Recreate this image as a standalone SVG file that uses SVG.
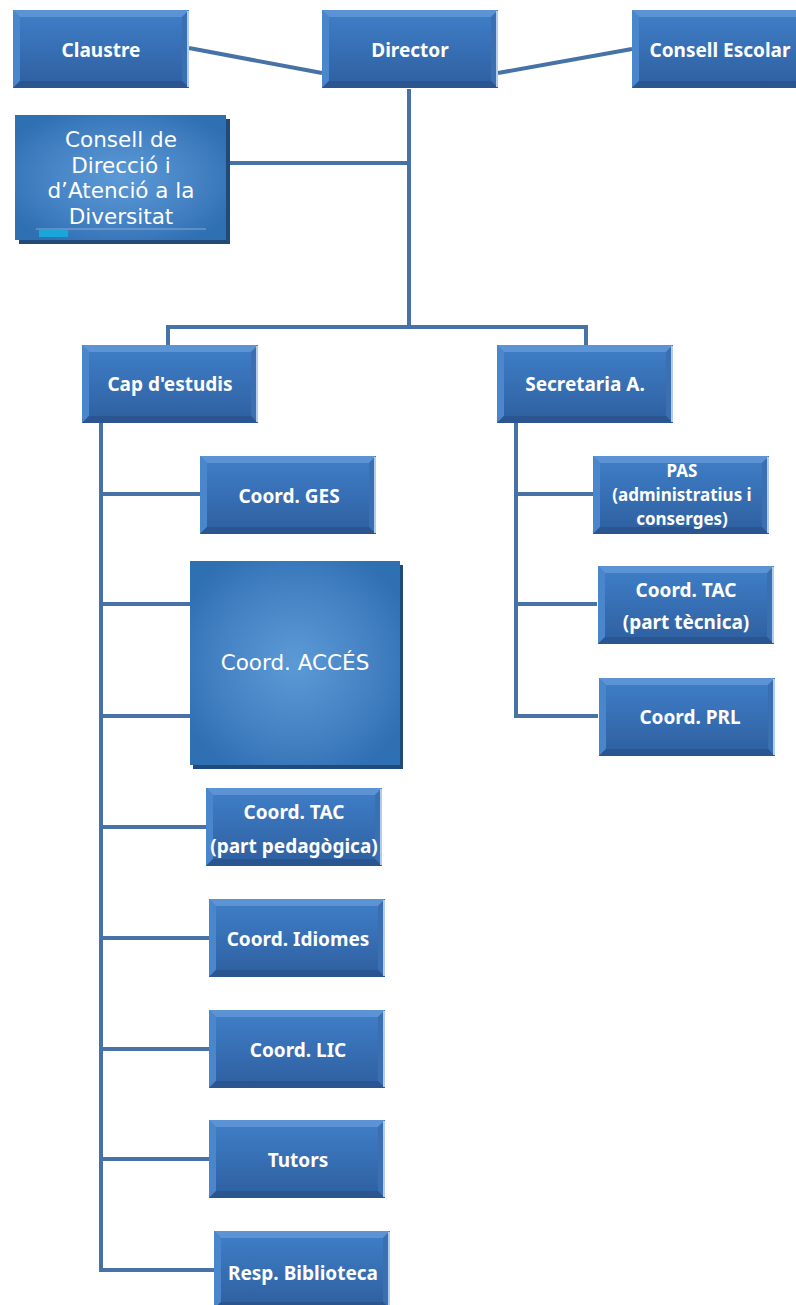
<svg xmlns="http://www.w3.org/2000/svg" xmlns:xlink="http://www.w3.org/1999/xlink" width="796" height="1305" viewBox="0 0 796 1305">
<defs>
<linearGradient id="face" x1="0" y1="0" x2="0" y2="1">
<stop offset="0" stop-color="#3f7fc8"/>
<stop offset="0.5" stop-color="#376fb4"/>
<stop offset="1" stop-color="#2e5f9f"/>
</linearGradient>
<radialGradient id="glow" cx="0.5" cy="0.5" r="0.6">
<stop offset="0" stop-color="#5b9ad6"/>
<stop offset="0.6" stop-color="#4582c4"/>
<stop offset="1" stop-color="#2f70b2"/>
</radialGradient>
<g id="bev">
<rect x="0" y="0" width="176" height="78" fill="url(#face)"/>
<polygon points="0,0 176,0 169,7 7,7" fill="#5c93d4"/>
<polygon points="0,0 7,7 7,71 0,78" fill="#4a86cc"/>
<polygon points="176,0 176,78 169,71 169,7" fill="#3a70b2"/>
<polygon points="0,78 176,78 169,71 7,71" fill="#2a5591"/>
<line x1="175" y1="1" x2="175" y2="77" stroke="#d8ecff" stroke-width="1.5"/>
</g>
</defs>
<style>
.lbl{font-family:"Noto Sans","DejaVu Sans",sans-serif;font-weight:bold;font-size:19px;fill:#ffffff;text-anchor:middle}
.sm{font-size:17px}
.big{font-family:"DejaVu Sans",Verdana,sans-serif;font-size:21.5px;fill:#ffffff;text-anchor:middle}
.con{stroke:#4672a6;stroke-width:4;fill:none}
</style>
<rect width="796" height="1305" fill="#ffffff"/>
<g id="connectors">
<line class="con" x1="189" y1="48" x2="322" y2="73"/>
<line class="con" x1="498" y1="73" x2="632" y2="49"/>
<line class="con" x1="409" y1="89" x2="409" y2="327"/>
<line class="con" x1="226" y1="163" x2="409" y2="163"/>
<polyline class="con" points="168,345 168,327 586,327 586,345"/>
<line class="con" x1="101" y1="423" x2="101" y2="1270"/>
<line class="con" x1="101" y1="494" x2="200" y2="494"/>
<line class="con" x1="101" y1="604" x2="190" y2="604"/>
<line class="con" x1="101" y1="716" x2="190" y2="716"/>
<line class="con" x1="101" y1="827" x2="206" y2="827"/>
<line class="con" x1="101" y1="938" x2="209" y2="938"/>
<line class="con" x1="101" y1="1049" x2="209" y2="1049"/>
<line class="con" x1="101" y1="1159" x2="209" y2="1159"/>
<line class="con" x1="99" y1="1270" x2="214" y2="1270"/>
<line class="con" x1="516" y1="423" x2="516" y2="716"/>
<line class="con" x1="516" y1="494" x2="593" y2="494"/>
<line class="con" x1="516" y1="604" x2="597" y2="604"/>
<line class="con" x1="514" y1="716" x2="598" y2="716"/>
</g>
<g id="claustre">
<use xlink:href="#bev" x="13" y="10"/>
<text class="lbl" x="101" y="57">Claustre</text>
</g>
<g id="director">
<use xlink:href="#bev" x="322" y="10"/>
<text class="lbl" x="410" y="57">Director</text>
</g>
<g id="consell-escolar">
<use xlink:href="#bev" x="632" y="10"/>
<text class="lbl" x="720" y="57">Consell Escolar</text>
</g>
<g id="consell-direccio">
<rect x="19" y="119" width="211" height="125" fill="#1f4a7a"/>
<rect x="15" y="115" width="211" height="125" fill="url(#glow)"/>
<line x1="36" y1="229" x2="206" y2="229" stroke="#9fb8d8" stroke-width="0.8"/>
<rect x="39" y="230" width="29" height="7" fill="#1aa6d8"/>
<text class="big" x="121" y="147">Consell de</text>
<text class="big" x="121" y="173">Direcció i</text>
<text class="big" x="121" y="198">d’Atenció a la</text>
<text class="big" x="121" y="224">Diversitat</text>
</g>
<g id="cap-estudis">
<use xlink:href="#bev" x="82" y="345"/>
<text class="lbl" x="170" y="391">Cap d'estudis</text>
</g>
<g id="secretaria">
<use xlink:href="#bev" x="497" y="345"/>
<text class="lbl" x="585" y="391">Secretaria A.</text>
</g>
<g id="coord-ges">
<use xlink:href="#bev" x="200" y="456"/>
<text class="lbl" x="289" y="503">Coord. GES</text>
</g>
<g id="coord-acces">
<rect x="193" y="565" width="210" height="204" fill="#1f4a7a"/>
<rect x="190" y="561" width="210" height="204" fill="url(#glow)"/>
<text class="big" x="295" y="670">Coord. ACCÉS</text>
</g>
<g id="coord-tac-ped">
<use xlink:href="#bev" x="206" y="788"/>
<text class="lbl" x="294" y="819">Coord. TAC</text>
<text class="lbl" x="294" y="853">(part pedagògica)</text>
</g>
<g id="coord-idiomes">
<use xlink:href="#bev" x="209" y="899"/>
<text class="lbl" x="298" y="946">Coord. Idiomes</text>
</g>
<g id="coord-lic">
<use xlink:href="#bev" x="209" y="1010"/>
<text class="lbl" x="298" y="1057">Coord. LIC</text>
</g>
<g id="tutors">
<use xlink:href="#bev" x="209" y="1120"/>
<text class="lbl" x="298" y="1167">Tutors</text>
</g>
<g id="resp-biblioteca">
<use xlink:href="#bev" x="214" y="1231"/>
<text class="lbl" x="303" y="1280">Resp. Biblioteca</text>
</g>
<g id="pas">
<use xlink:href="#bev" x="593" y="456"/>
<text class="lbl sm" x="682" y="477">PAS</text>
<text class="lbl sm" x="682" y="501">(administratius i</text>
<text class="lbl sm" x="682" y="525">conserges)</text>
</g>
<g id="coord-tac-tec">
<use xlink:href="#bev" x="598" y="566"/>
<text class="lbl" x="686" y="597">Coord. TAC</text>
<text class="lbl" x="686" y="629">(part tècnica)</text>
</g>
<g id="coord-prl">
<use xlink:href="#bev" x="599" y="678"/>
<text class="lbl" x="690" y="724">Coord. PRL</text>
</g>
</svg>
